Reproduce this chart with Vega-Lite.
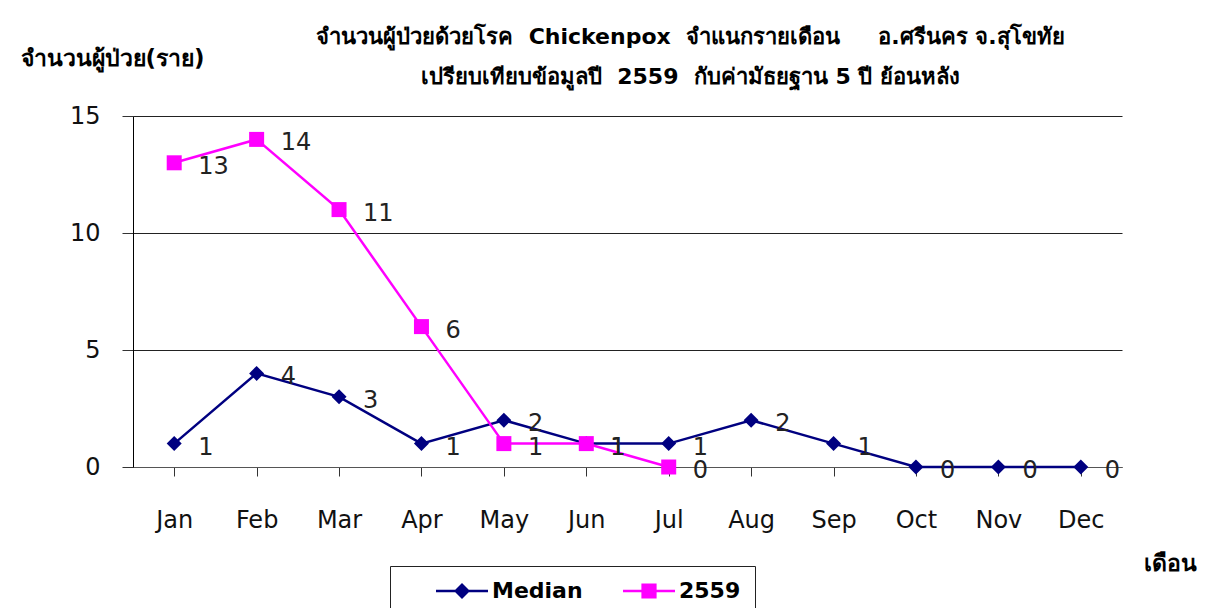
{
  "$schema": "https://vega.github.io/schema/vega-lite/v6.json",
  "width": 989,
  "height": 351,
  "autosize": "none",
  "padding": {"left": 133, "top": 116, "right": 86, "bottom": 141},
  "background": "white",
  "config": {
    "font": "Tahoma, DejaVu Sans, sans-serif",
    "view": {"stroke": null}
  },
  "title": {
    "text": ["จำนวนผู้ป่วยด้วยโรค\u00a0\u00a0Chickenpox\u00a0\u00a0จำแนกรายเดือน\u00a0\u00a0\u00a0\u00a0\u00a0อ.ศรีนคร จ.สุโขทัย", "เปรียบเทียบข้อมูลปี\u00a0\u00a02559\u00a0\u00a0กับค่ามัธยฐาน 5 ปี ย้อนหลัง"],
    "fontSize": 22,
    "fontWeight": "bold",
    "color": "black",
    "lineHeight": 40,
    "anchor": "middle",
    "frame": "group",
    "dx": 63,
    "offset": -42
  },
  "data": {
    "values": [
      {"month": "Jan", "series": "Median", "value": 1},
      {"month": "Feb", "series": "Median", "value": 4},
      {"month": "Mar", "series": "Median", "value": 3},
      {"month": "Apr", "series": "Median", "value": 1},
      {"month": "May", "series": "Median", "value": 2},
      {"month": "Jun", "series": "Median", "value": 1},
      {"month": "Jul", "series": "Median", "value": 1},
      {"month": "Aug", "series": "Median", "value": 2},
      {"month": "Sep", "series": "Median", "value": 1},
      {"month": "Oct", "series": "Median", "value": 0},
      {"month": "Nov", "series": "Median", "value": 0},
      {"month": "Dec", "series": "Median", "value": 0},
      {"month": "Jan", "series": "2559", "value": 13},
      {"month": "Feb", "series": "2559", "value": 14},
      {"month": "Mar", "series": "2559", "value": 11},
      {"month": "Apr", "series": "2559", "value": 6},
      {"month": "May", "series": "2559", "value": 1},
      {"month": "Jun", "series": "2559", "value": 1},
      {"month": "Jul", "series": "2559", "value": 0}
    ]
  },
  "encoding": {
    "x": {
      "field": "month",
      "type": "nominal",
      "sort": ["Jan","Feb","Mar","Apr","May","Jun","Jul","Aug","Sep","Oct","Nov","Dec"],
      "scale": {"paddingInner": 0, "paddingOuter": 0, "domain": ["Jan","Feb","Mar","Apr","May","Jun","Jul","Aug","Sep","Oct","Nov","Dec"]},
      "axis": {
        "title": "เดือน",
        "titleFontSize": 23,
        "titleFontWeight": "bold",
        "titleColor": "black",
        "titleAngle": 0,
        "titleX": 1010,
        "titleY": 96,
        "titleAlign": "left",
        "titleBaseline": "middle",
        "labelAngle": 0,
        "labelFontSize": 24,
        "labelColor": "#111",
        "labelPadding": 32,
        "tickSize": 9,
        "tickColor": "#333",
        "domainColor": "#555",
        "grid": false
      }
    },
    "y": {
      "field": "value",
      "type": "quantitative",
      "scale": {"domain": [0, 15]},
      "axis": {
        "values": [0, 5, 10, 15],
        "title": "จำนวนผู้ป่วย(ราย)",
        "titleFontSize": 23,
        "titleFontWeight": "bold",
        "titleColor": "black",
        "titleAngle": 0,
        "titleX": -113,
        "titleY": -58,
        "titleAlign": "left",
        "titleBaseline": "middle",
        "labelFontSize": 24,
        "labelColor": "#111",
        "labelPadding": 22,
        "tickSize": 11,
        "tickColor": "#333",
        "domainColor": "black",
        "grid": true,
        "gridColor": "#222",
        "gridWidth": 1
      }
    },
    "color": {
      "field": "series",
      "type": "nominal",
      "scale": {"domain": ["Median", "2559"], "range": ["#000080", "#FF00FF"]}
    }
  },
  "layer": [
    {
      "mark": {"type": "line", "strokeWidth": 2.5},
      "encoding": {
        "color": {
          "field": "series",
          "type": "nominal",
          "scale": {"domain": ["Median", "2559"], "range": ["#000080", "#FF00FF"]},
          "legend": {
            "title": null,
            "orient": "none",
            "legendX": 257,
            "legendY": 450,
            "direction": "horizontal",
            "columns": 2,
            "strokeColor": "#222",
            "fillColor": "white",
            "padding": 14,
            "symbolOffset": 47,
            "symbolSize": 256,
            "symbolStrokeWidth": 0,
            "labelFontSize": 22,
            "labelFontWeight": "bold",
            "labelColor": "black",
            "labelOffset": 19,
            "columnPadding": 8,
            "encode": {
              "symbols": {
                "update": {
                  "shape": {"signal": "datum.value === 'Median' ? 'M-3.25,-0.16L3.25,-0.16L3.25,0.16L-3.25,0.16Z M0,-1L1,0L0,1L-1,0Z' : 'M-3.25,-0.16L3.25,-0.16L3.25,0.16L-3.25,0.16Z M-0.95,-0.95L0.95,-0.95L0.95,0.95L-0.95,0.95Z'"},
                  "fill": {"scale": "color", "field": "value"},
                  "fillOpacity": {"value": 1}
                }
              }
            }
          }
        }
      }
    },
    {
      "transform": [{"filter": "datum.series === 'Median'"}],
      "mark": {"type": "point", "filled": true, "size": 225, "opacity": 1, "shape": "diamond"}
    },
    {
      "transform": [{"filter": "datum.series === '2559'"}],
      "mark": {"type": "point", "filled": true, "size": 225, "opacity": 1, "shape": "square"}
    },
    {
      "mark": {"type": "text", "align": "left", "baseline": "middle", "dx": 24, "dy": 4, "fontSize": 24, "color": "#222"},
      "encoding": {
        "text": {"field": "value", "type": "quantitative"},
        "color": {"value": "#222"}
      }
    }
  ]
}
